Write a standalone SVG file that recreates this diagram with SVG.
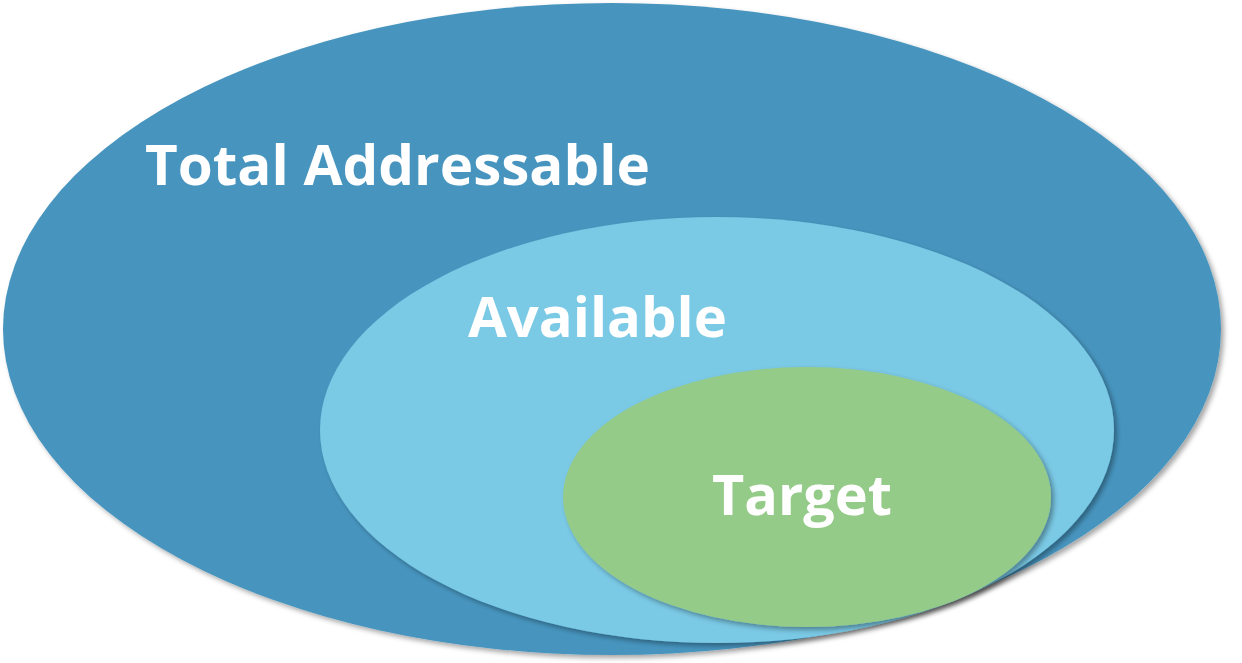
<svg xmlns="http://www.w3.org/2000/svg" width="1242" height="663" viewBox="0 0 1242 663">
<defs>
<filter id="sh" x="-5%" y="-5%" width="110%" height="110%">
<feDropShadow dx="3" dy="3" stdDeviation="2.5" flood-color="#000" flood-opacity="0.35"/>
</filter>
</defs>
<style>
text{font-family:"Open Sans","Liberation Sans",sans-serif;font-weight:bold;fill:#fff;font-size:56px}
</style>
<rect width="1242" height="663" fill="#fff"/>
<g id="total"><ellipse cx="612" cy="329" rx="609" ry="326" fill="#4795BF" filter="url(#sh)"/>
<text x="145" y="185" textLength="505" lengthAdjust="spacingAndGlyphs">Total Addressable</text></g>
<g id="available"><ellipse cx="717" cy="430" rx="397" ry="213" fill="#7AC9E5" filter="url(#sh)"/>
<text x="468" y="337" textLength="259" lengthAdjust="spacingAndGlyphs">Available</text></g>
<g id="target"><ellipse cx="807" cy="497" rx="244" ry="130" fill="#95CB88" filter="url(#sh)"/>
<text x="712" y="515" textLength="180" lengthAdjust="spacingAndGlyphs">Target</text></g>
<g id="connectors"/>
</svg>
